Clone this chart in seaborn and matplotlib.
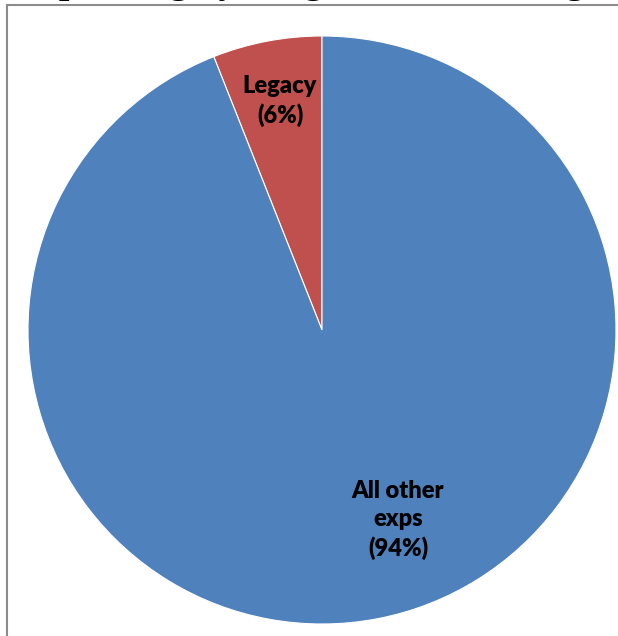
import matplotlib
matplotlib.use("Agg")
import matplotlib.pyplot as plt
import seaborn as sns
from matplotlib.patches import Rectangle

# Data
categories = ["Legacy", "All other\nexps"]
shares = [6, 94]
colors = ["#C0504D", "#4F81BD"]
title_text = "Spending by Program in the Budget"

sns.set_theme(style="white")
plt.rcParams['font.family'] = ['Lato', 'DejaVu Sans']

W, H = 618, 636
fig = plt.figure(figsize=(W / 100, H / 100), dpi=100)
ax = fig.add_axes([0, 0, 1, 1])

cx, cy, r = 322, 330, 294
wedges, _ = ax.pie(shares, colors=colors, startangle=90, counterclock=True,
                   radius=1.0, center=(0, 0),
                   wedgeprops=dict(edgecolor="white", linewidth=0.8))
ax.set_xlim(-cx / r, (W - cx) / r)
ax.set_ylim((cy - H) / r, cy / r)
ax.set_aspect("auto")
ax.axis("off")

labels = [f"{c}\n({s}%)" for c, s in zip(categories, shares)]
label_pos = [((280 - cx) / r, (cy - 101) / r), ((398 - cx) / r, (cy - 520) / r)]
for lab, (x, y) in zip(labels, label_pos):
    ax.text(x, y, lab, ha="center", va="center", fontsize=17, fontweight="heavy",
            color="black", linespacing=1.35)

# chart border (top and left visible)
fig.patches.append(Rectangle((7 / W, -0.1), 1.2, 1.1 - 5 / H, transform=fig.transFigure,
                             fill=False, edgecolor="#8c8c8c", linewidth=1.5))

# clipped title
fig.text(38 / W, 1 + 7 / H, title_text, ha="left", va="baseline",
         fontsize=27, fontweight="bold", family=["Liberation Serif"], color="black")

fig.savefig("out.png", dpi=100)
